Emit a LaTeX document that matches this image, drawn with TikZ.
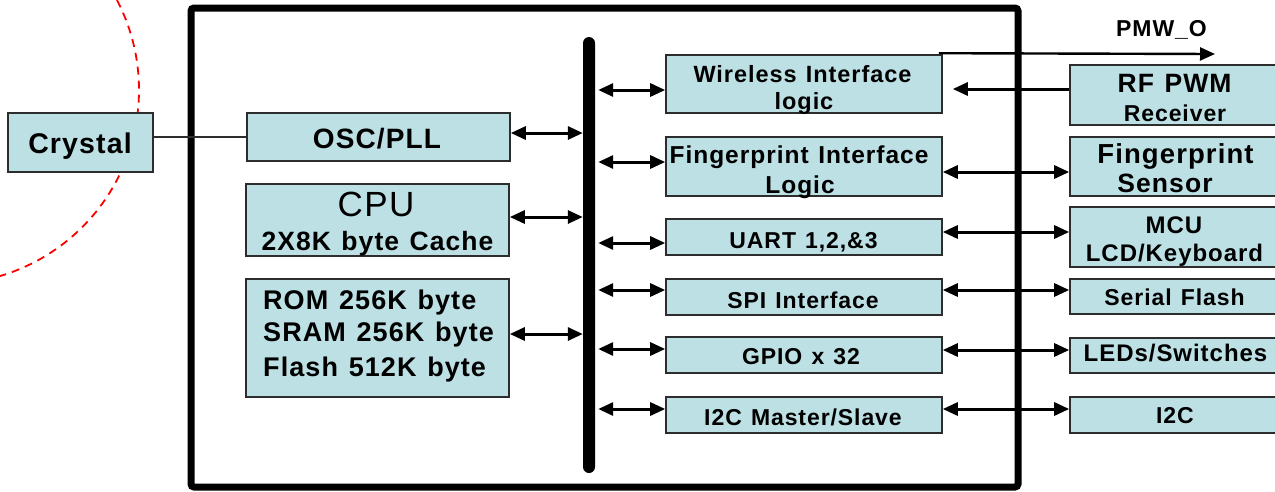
\documentclass[tikz,border=0pt]{standalone}
\usepackage{fontspec}
\setmainfont{Liberation Sans}[LetterSpace=4, WordSpace=1.25]
\usetikzlibrary{arrows.meta,calc}
\definecolor{boxfill}{RGB}{188,224,228}
\definecolor{boxline}{RGB}{45,45,45}
\newcommand{\boldlab}[1]{\bfseries\fontsize{#1}{#1}\selectfont}
\newcommand{\plainlab}[1]{\mdseries\fontsize{#1}{#1}\selectfont}
\tikzset{
  blk/.style={draw=boxline, line width=1.6pt, fill=boxfill, inner sep=0pt},
  lbl/.style={anchor=base, inner sep=0pt},
  bi/.style={line width=3pt, {Triangle[length=15pt,width=13pt]}-{Triangle[length=15pt,width=13pt]}},
  uni/.style={line width=3pt, -{Triangle[length=15pt,width=13pt]}},
  redarc/.style={red, line width=1.8pt, dash pattern=on 8pt off 6pt},
  frame/.style={line width=7pt, rounded corners=3pt},
}
\begin{document}
\begin{tikzpicture}[x=1pt,y=1pt]
\path[use as bounding box, clip] (0,0) rectangle (1275,-491);

% dashed circle segment on the left
\draw[redarc] (-55,-90) ++(40:194) arc[start angle=40, end angle=-80, radius=194];

% chip outline
\draw[frame] (191,-8) rectangle (1018,-487);

% internal bus
\node[fill=black, rounded corners=6pt, minimum width=12pt, minimum height=436pt, inner sep=0pt] (bus) at (589,-255) {};

% external crystal
\node[blk, minimum width=145pt, minimum height=59pt] (crystal) at (80.5,-142.5) {};
\node[lbl, font=\boldlab{28.5}] (crystal-t) at (80,-153) {Crystal};

% core blocks
\node[blk, minimum width=263pt, minimum height=48pt] (osc) at (378.5,-137) {};
\node[lbl, font=\boldlab{28}] (osc-t) at (377,-148) {OSC/PLL};
\node[blk, minimum width=263pt, minimum height=72pt] (cpu) at (377.5,-220) {};
\node[lbl, font=\plainlab{35}] (cpu-t1) at (376,-216.5) {CPU};
\node[lbl, font=\boldlab{26.5}] (cpu-t2) at (377.5,-250) {2X8K byte Cache};
\node[blk, minimum width=263pt, minimum height=118pt] (mem) at (377.5,-338) {};
\node[lbl, anchor=base west, font=\boldlab{27}] (mem-t1) at (263,-309) {ROM 256K byte};
\node[lbl, anchor=base west, font=\boldlab{27}] (mem-t2) at (263,-341.5) {SRAM 256K byte};
\node[lbl, anchor=base west, font=\boldlab{27}] (mem-t3) at (263,-376) {Flash 512K byte};

% peripheral blocks
\node[blk, minimum width=276pt, minimum height=58pt] (wifi) at (804,-84) {};
\node[lbl, font=\boldlab{23.5}] (wifi-t1) at (802.5,-82) {Wireless Interface};
\node[lbl, font=\boldlab{23.5}] (wifi-t2) at (804,-109) {logic};
\node[blk, minimum width=276pt, minimum height=59pt] (fpi) at (804,-166.5) {};
\node[lbl, font=\boldlab{24.5}] (fpi-t1) at (799,-163) {Fingerprint Interface};
\node[lbl, font=\boldlab{24.5}] (fpi-t2) at (800,-193) {Logic};
\node[blk, minimum width=276pt, minimum height=36pt] (uart) at (804,-237) {};
\node[lbl, font=\boldlab{23}] (uart-t) at (803.5,-248.3) {UART 1,2,\&3};
\node[blk, minimum width=276pt, minimum height=36pt] (spi) at (804,-297) {};
\node[lbl, font=\boldlab{23}] (spi-t) at (803,-308.3) {SPI Interface};
\node[blk, minimum width=276pt, minimum height=36pt] (gpio) at (804,-355) {};
\node[lbl, font=\boldlab{23}] (gpio-t) at (801,-364.3) {GPIO x 32};
\node[blk, minimum width=276pt, minimum height=36pt] (i2cm) at (804,-415) {};
\node[lbl, font=\boldlab{23}] (i2cm-t) at (803,-425) {I2C Master/Slave};

% external devices
\node[blk, minimum width=210pt, minimum height=60pt] (rf) at (1175,-95) {};
\node[lbl, font=\boldlab{26.5}] (rf-t1) at (1174.5,-92.3) {RF PWM};
\node[lbl, font=\boldlab{23}] (rf-t2) at (1175,-121.7) {Receiver};
\node[blk, minimum width=210pt, minimum height=59pt] (fps) at (1175,-166.5) {};
\node[lbl, font=\boldlab{27.5}] (fps-t1) at (1175.5,-163.3) {Fingerprint};
\node[lbl, font=\boldlab{26.5}] (fps-t2) at (1165,-192.7) {Sensor};
\node[blk, minimum width=210pt, minimum height=60pt] (mcu) at (1175,-237) {};
\node[lbl, font=\boldlab{24}] (mcu-t1) at (1174,-233.3) {MCU};
\node[lbl, font=\boldlab{24}] (mcu-t2) at (1174.5,-261) {LCD/Keyboard};
\node[blk, minimum width=210pt, minimum height=35pt] (sflash) at (1175,-296.5) {};
\node[lbl, font=\boldlab{23}] (sflash-t) at (1174.5,-305) {Serial Flash};
\node[blk, minimum width=210pt, minimum height=35pt] (leds) at (1175,-355.5) {};
\node[lbl, font=\boldlab{24}] (leds-t) at (1175.5,-361.7) {LEDs/Switches};
\node[blk, minimum width=210pt, minimum height=36pt] (i2c) at (1175,-415) {};
\node[lbl, font=\boldlab{23}] (i2c-t) at (1175,-423.3) {I2C};

% crystal connection
\draw[boxline, line width=1.6pt] (crystal.east |- osc.west) -- (osc.west);

% core blocks to bus
\draw[bi] ($(osc.east)+(0,4)$) -- ($(bus.west |- osc.east)+(0,4)$);
\draw[bi] ($(cpu.east)+(0,3)$) -- ($(bus.west |- cpu.east)+(0,3)$);
\draw[bi] ($(mem.east)+(0,4)$) -- ($(bus.west |- mem.east)+(0,4)$);

% bus to peripheral blocks
\draw[bi] ($(bus.east |- wifi.west)+(3,-6)$) -- ($(wifi.west)+(0,-6)$);
\draw[bi] ($(bus.east |- fpi.west)+(3,4.5)$) -- ($(fpi.west)+(0,4.5)$);
\draw[bi] ($(bus.east |- uart.west)+(3,-6)$) -- ($(uart.west)+(0,-6)$);
\draw[bi] ($(bus.east |- spi.west)+(3,7)$) -- ($(spi.west)+(0,7)$);
\draw[bi] ($(bus.east |- gpio.west)+(3,6)$) -- ($(gpio.west)+(0,6)$);
\draw[bi] ($(bus.east |- i2cm.west)+(3,6)$) -- ($(i2cm.west)+(0,6)$);

% peripheral blocks to external devices
\node[lbl, font=\boldlab{23}] (pmw-t) at (1161.5,-36.7) {PMW\_O};
\coordinate (pmwend) at (1215,-54);
\draw[uni, line width=2.4pt] ($(wifi.north east)+(-4,1)$) -- (pmwend);
\draw[uni] (rf.west |- 0,-89) -- ($(wifi.east)+(10,-5)$);
\draw[bi] ($(fpi.east)+(0,-5.5)$) -- ($(fps.west)+(0,-5.5)$);
\draw[bi] ($(uart.east)+(0,5)$) -- ($(mcu.west)+(0,5)$);
\draw[bi] ($(spi.east)+(0,7)$) -- ($(sflash.west)+(0,6.5)$);
\draw[bi] ($(gpio.east)+(0,5)$) -- ($(leds.west)+(0,5.5)$);
\draw[bi] ($(i2cm.east)+(0,6)$) -- ($(i2c.west)+(0,6)$);
\end{tikzpicture}
\end{document}
